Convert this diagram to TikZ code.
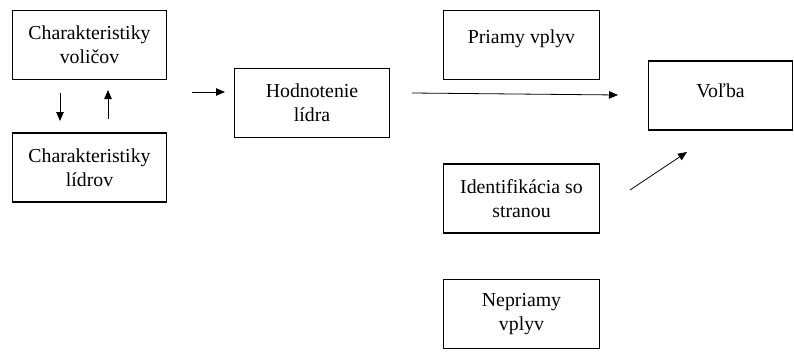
\documentclass[tikz,border=0pt]{standalone}
\usepackage{fontspec}
\setmainfont{Liberation Serif}
\newfontfamily\boxfont{Liberation Serif}
\usetikzlibrary{arrows,arrows.meta,shapes}
\tikzstyle{box}=[draw,line width=1.7pt,minimum height=69pt,inner sep=0pt,align=center,font=\boxfont\fontsize{19.8}{24}\selectfont]
\tikzstyle{link} = [draw,line width=0.8pt,-{Triangle[length=9pt,width=7.5pt]}]

\begin{document}
\begin{tikzpicture}[x=1pt,y=-1pt]
    \useasboundingbox (0,0) rectangle (794,351);
    % First we draw the boxes with two lines
    \foreach \pos/\name/\txt/\w in {{(89.5,45)/volicov/{Charakteristiky\\voličov}/154}, {(89.5,167.5)/lidrov/{Charakteristiky\\lídrov}/154}, {(312,103)/hodnotenie/{Hodnotenie\\lídra}/155}, {(521.5,198.5)/identifikacia/{Identifikácia so\\stranou}/156}, {(521.5,314)/nepriamy/{Nepriamy\\vplyv}/156}}
        \node[box,minimum width=\w pt] (\name) at \pos {\txt};
    % then the boxes with one line, text near the top
    \node[box,minimum width=156pt,text depth=17.5pt] (priamy) at (521.5,45) {Priamy vplyv};
    \node[box,minimum width=144pt,text depth=10.5pt] (volba) at (720.5,95.5) {Voľba};
    % Arrow ends
    \coordinate (d1) at (60,93);
    \coordinate (d2) at (60,121);
    \coordinate (u1) at (108,119);
    \coordinate (u2) at (108,90);
    \coordinate (h1) at (192,92);
    \coordinate (h2) at (225,92);
    \coordinate (v1) at (412,93);
    \coordinate (v2) at (618,95);
    \coordinate (s1) at (630,190);
    \coordinate (s2) at (687,152);
    % Connect them with arrows
    \foreach \a/\b in {d1/d2, u1/u2, h1/h2, v1/v2, s1/s2}
        \path[link] (\a) -- (\b);

\end{tikzpicture}
\end{document}
